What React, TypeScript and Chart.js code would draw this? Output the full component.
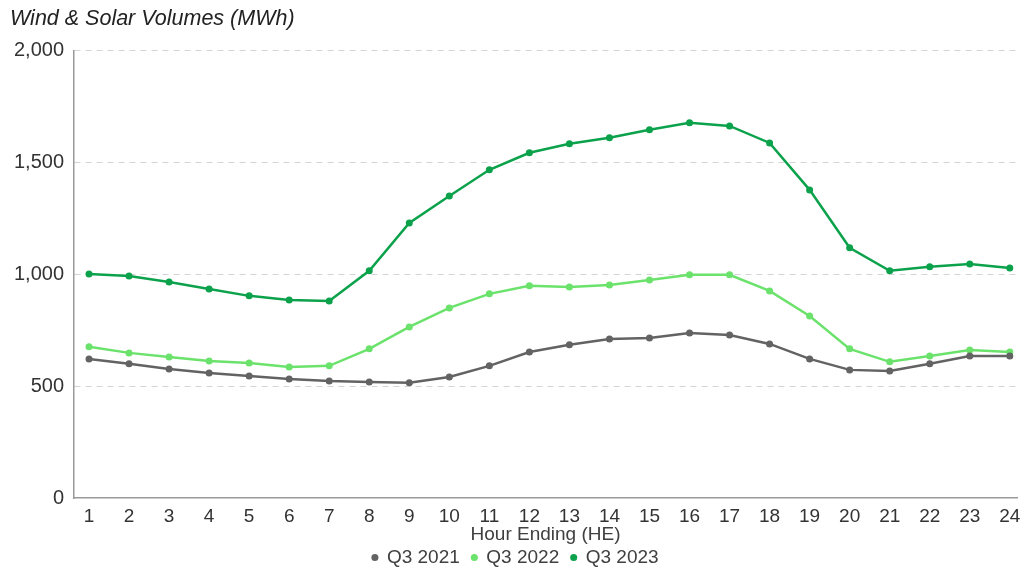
import React, { useEffect, useRef } from "react";
import { Chart, registerables } from "chart.js";

Chart.register(...registerables);

const hours = [1, 2, 3, 4, 5, 6, 7, 8, 9, 10, 11, 12, 13, 14, 15, 16, 17, 18, 19, 20, 21, 22, 23, 24];
const q3_2021 = [622, 600, 577, 559, 546, 532, 523, 519, 515, 541, 591, 653, 685, 711, 716, 738, 729, 689, 622, 573, 568, 600, 635, 635];
const q3_2022 = [676, 649, 631, 613, 604, 586, 591, 667, 765, 850, 913, 949, 944, 953, 975, 998, 998, 926, 814, 667, 609, 635, 662, 653];
const q3_2023 = [1002, 993, 966, 935, 904, 886, 881, 1016, 1230, 1351, 1468, 1544, 1584, 1611, 1647, 1678, 1664, 1588, 1378, 1119, 1016, 1034, 1047, 1029];
const seriesNames = ["Q3 2021", "Q3 2022", "Q3 2023"];
const yTicks = [0, 500, 1000, 1500, 2000];

const colors = ["#636363", "#6be26b", "#0ca24c"];
const FONT = "'Liberation Sans', Arial, sans-serif";

export default function App() {
  const ref = useRef<HTMLCanvasElement | null>(null);
  useEffect(() => {
    if (!ref.current) return;
    const all = [q3_2021, q3_2022, q3_2023];
    const chart = new Chart(ref.current, {
      type: "line",
      data: {
        datasets: all.map((vals, i) => ({
          label: seriesNames[i],
          data: hours.map((h, j) => ({ x: h, y: vals[j] })),
          borderColor: colors[i],
          backgroundColor: colors[i],
          pointBackgroundColor: colors[i],
          pointBorderColor: colors[i],
          pointRadius: 3.5,
          pointBorderWidth: 0,
          borderWidth: 2.5,
          tension: 0,
        })),
      },
      options: {
        animation: false,
        responsive: true,
        maintainAspectRatio: false,
        layout: { padding: { left: 10, right: 0, top: 0, bottom: -4 } },
        plugins: {
          title: {
            display: true,
            text: "Wind & Solar Volumes (MWh)",
            align: "start",
            color: "#222",
            font: { family: FONT, size: 21.5, style: "italic", weight: "normal", lineHeight: 1.2 },
            padding: { top: 6, bottom: 19 },
          },
          legend: {
            position: "bottom",
            labels: {
              usePointStyle: true,
              pointStyle: "circle",
              boxWidth: 5,
              boxHeight: 5,
              padding: 12,
              color: "#404040",
              font: { family: FONT, size: 19, lineHeight: 1 },
              generateLabels: (c: any) =>
                Chart.defaults.plugins.legend.labels.generateLabels(c).map((l: any) => ({ ...l, lineWidth: 0 })),
            },
          },
          tooltip: { enabled: false },
        },
        scales: {
          x: {
            type: "linear",
            min: 0.625,
            max: 24.18,
            grid: { display: false, drawTicks: false },
            border: { color: "#9a9a9a", width: 1.5 },
            afterBuildTicks: (axis: any) => {
              axis.ticks = hours.map((h) => ({ value: h }));
            },
            afterFit: (axis: any) => {
              axis.paddingLeft = 0;
              axis.paddingRight = 0;
            },
            ticks: {
              autoSkip: false,
              maxRotation: 0,
              padding: 9,
              color: "#333",
              font: { family: FONT, size: 19, lineHeight: 1 },
              callback: (v: any) => String(v),
            },
            title: {
              display: true,
              text: "Hour Ending (HE)",
              color: "#404040",
              font: { family: FONT, size: 19, lineHeight: 1 },
              padding: { top: -10, bottom: -8 },
            },
          },
          y: {
            min: yTicks[0],
            max: yTicks[yTicks.length - 1],
            afterBuildTicks: (axis: any) => {
              axis.ticks = yTicks.map((v) => ({ value: v }));
            },
            afterFit: (axis: any) => {
              axis.width = 64;
            },
            grid: {
              drawTicks: false,
              color: (ctx: any) => (ctx.tick && ctx.tick.value === 0 ? "rgba(0,0,0,0)" : "#d4d4d4"),
              lineWidth: 1,
            },
            border: { color: "#9a9a9a", width: 1.5, dash: [6, 5] },
            ticks: {
              padding: 10,
              color: "#333",
              font: { family: FONT, size: 20 },
              callback: (v: any) => Number(v).toLocaleString("en-US"),
            },
          },
        },
      },
    });
    return () => chart.destroy();
  }, []);
  return (
    <div style={{ position: "fixed", left: 0, top: 0, width: 1021, height: 573, background: "#fff" }}>
      <canvas ref={ref} />
    </div>
  );
}
